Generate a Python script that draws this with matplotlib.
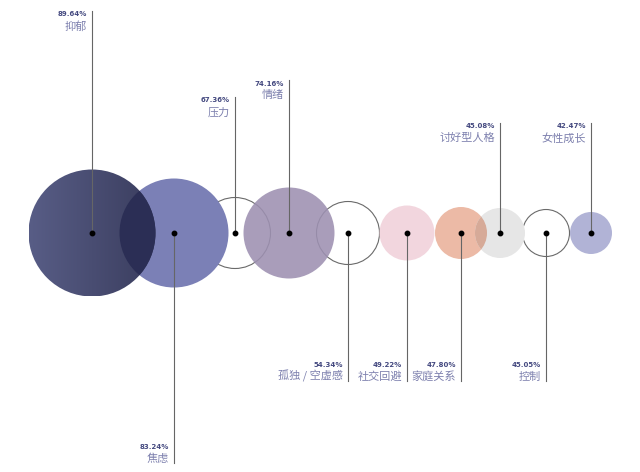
import matplotlib.pyplot as plt
import numpy as np
from matplotlib.patches import Circle
from matplotlib.colors import LinearSegmentedColormap

plt.rcParams['font.family'] = ['Noto Sans CJK SC', 'DejaVu Sans']

labels = ["抑郁", "焦虑", "压力", "情绪", "孤独 / 空虚感", "社交回避",
          "家庭关系", "讨好型人格", "控制", "女性成长"]
values = [89.64, 83.24, 67.36, 74.16, 54.34, 49.22, 47.80, 45.08, 45.05, 42.47]

# layout in pixel units
xs = [92, 174, 235, 289, 348, 407, 461, 500, 546, 591]
radii = [63.5, 54.5, 35.5, 45.5, 31.5, 27.5, 26, 25, 23.5, 21]
line_end = [11, 463, 97, 80, 381, 381, 381, 123, 381, 123]
fills = ['grad', '#7b80b6', None, '#9d90b1', None, '#f2d6de', '#ecbaa6', '#e6e6e6', None, '#b1b3d6']
cy = 233

fig = plt.figure(figsize=(6.4, 4.72), dpi=100)
ax = fig.add_axes([0, 0, 1, 1])
ax.set_xlim(0, 640)
ax.set_ylim(472, 0)
ax.axis('off')

patches = []
for i in range(len(values)):
    f = fills[i]
    if f is None:
        c = Circle((xs[i], cy), radii[i], facecolor='none', edgecolor='#6a6a6a', lw=0.8, zorder=1)
    elif f == 'grad':
        c = Circle((xs[i], cy), radii[i], facecolor='none', edgecolor='none', zorder=3)
    else:
        a = 0.88 if i == 3 else 1
        c = Circle((xs[i], cy), radii[i], facecolor=f, edgecolor='none', alpha=a, zorder=2)
    ax.add_patch(c)
    patches.append(c)

# gradient for the biggest circle
cmap = LinearSegmentedColormap.from_list('g', ['#585d86', '#3a3d5e'])
grad = np.linspace(0, 1, 256).reshape(1, -1)
r0 = radii[0]
img = ax.imshow(grad, cmap=cmap, extent=[xs[0] - r0, xs[0] + r0, cy + r0, cy - r0],
                aspect='auto', zorder=3)
img.set_clip_path(patches[0])
ax.set_xlim(0, 640)
ax.set_ylim(472, 0)

# darker overlaps
lens = Circle((xs[1], cy), radii[1], facecolor='#2b2e55', edgecolor='none', zorder=3.5)
ax.add_patch(lens)
lens.set_clip_path(patches[0])
lens2 = Circle((xs[7], cy), radii[7], facecolor='#d6aa98', edgecolor='none', zorder=3.5)
ax.add_patch(lens2)
lens2.set_clip_path(patches[6])

# leader lines, dots and labels
for i in range(len(values)):
    x = xs[i]
    ax.plot([x, x], [cy, line_end[i]], color='#666666', lw=0.8, zorder=4)
    ax.plot(x, cy, 'o', color='black', ms=3.2, zorder=5)
    pct = f"{values[i]:.2f}%"
    if line_end[i] < cy:
        top = line_end[i]
        ax.text(x - 5, top + 0.5, pct, ha='right', va='top', fontsize=5,
                fontweight='bold', color='#454a80', family='DejaVu Sans')
        ax.text(x - 5, top + 10, labels[i], ha='right', va='top', fontsize=8, color='#7d80ae')
    else:
        bot = line_end[i]
        ax.text(x - 5, bot + 1, labels[i], ha='right', va='bottom', fontsize=8, color='#7d80ae')
        ax.text(x - 5, bot - 13, pct, ha='right', va='bottom', fontsize=5,
                fontweight='bold', color='#454a80', family='DejaVu Sans')

fig.savefig('out.png', dpi=100)
